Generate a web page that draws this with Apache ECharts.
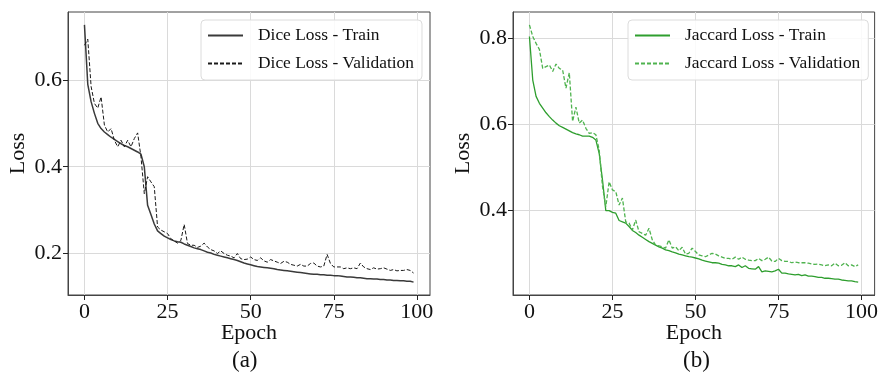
<!DOCTYPE html>
<html>
<head>
<meta charset="utf-8">
<script src="https://cdn.jsdelivr.net/npm/echarts@6/dist/echarts.min.js"></script>
<style>
  html, body { margin: 0; padding: 0; background: #fff; }
  #chart { width: 881px; height: 375px; }
</style>
</head>
<body>
<div id="chart"></div>
<script>
// epoch ticks and loss ticks
const epochTicks = [0, 25, 50, 75, 100]
const diceTicks = [0.2, 0.4, 0.6]
const jaccardTicks = [0.4, 0.6, 0.8]

// values, one per epoch (0..99)
const diceTrain = [
  0.727, 0.59, 0.55, 0.523, 0.50, 0.488, 0.48, 0.474, 0.468, 0.463,
  0.458, 0.453, 0.449, 0.446, 0.442, 0.438, 0.434, 0.429, 0.40, 0.311,
  0.29, 0.268, 0.252, 0.246, 0.24, 0.236, 0.232, 0.229, 0.227, 0.226,
  0.222, 0.219, 0.216, 0.213, 0.211, 0.209, 0.206, 0.203, 0.201, 0.198,
  0.196, 0.194, 0.192, 0.19, 0.188, 0.186, 0.184, 0.181, 0.178, 0.176,
  0.174, 0.172, 0.17, 0.169, 0.168, 0.167, 0.166, 0.165, 0.163, 0.162,
  0.161, 0.16, 0.159, 0.158, 0.157, 0.156, 0.155, 0.154, 0.153, 0.152,
  0.152, 0.151, 0.151, 0.15, 0.15, 0.149, 0.149, 0.148, 0.147, 0.146,
  0.146, 0.145, 0.144, 0.144, 0.143, 0.142, 0.142, 0.141, 0.141, 0.14,
  0.14, 0.139, 0.139, 0.138, 0.138, 0.137, 0.137, 0.136, 0.136, 0.134
]
const diceVal = [
  0.68, 0.694, 0.585, 0.546, 0.535, 0.561, 0.496, 0.48, 0.488, 0.461,
  0.446, 0.461, 0.446, 0.461, 0.446, 0.465, 0.478, 0.423, 0.338, 0.377,
  0.365, 0.354, 0.261, 0.254, 0.25, 0.246, 0.234, 0.229, 0.224, 0.23,
  0.267, 0.223, 0.219, 0.219, 0.214, 0.217, 0.224, 0.215, 0.209, 0.206,
  0.2, 0.206, 0.2, 0.196, 0.194, 0.19, 0.2, 0.188, 0.186, 0.187,
  0.192, 0.186, 0.184, 0.19, 0.183, 0.18, 0.186, 0.183, 0.18, 0.177,
  0.182, 0.18, 0.175, 0.173, 0.171, 0.175, 0.171, 0.171, 0.177, 0.178,
  0.171, 0.169, 0.171, 0.198, 0.177, 0.169, 0.169, 0.169, 0.165, 0.167,
  0.165, 0.167, 0.165, 0.178, 0.169, 0.165, 0.163, 0.167, 0.164, 0.165,
  0.167, 0.164, 0.161, 0.163, 0.16, 0.161, 0.161, 0.163, 0.161, 0.155
]
const jaccardTrain = [
  0.804, 0.703, 0.665, 0.649, 0.638, 0.627, 0.618, 0.61, 0.603, 0.597,
  0.593, 0.589, 0.585, 0.581, 0.578, 0.576, 0.573, 0.573, 0.573, 0.57,
  0.564, 0.533, 0.471, 0.40, 0.40, 0.396, 0.394, 0.377, 0.374, 0.371,
  0.363, 0.354, 0.349, 0.343, 0.338, 0.333, 0.328, 0.324, 0.32, 0.316,
  0.313, 0.309, 0.307, 0.304, 0.302, 0.299, 0.297, 0.295, 0.293, 0.292,
  0.29, 0.288, 0.285, 0.283, 0.281, 0.279, 0.279, 0.278, 0.275, 0.274,
  0.272, 0.272, 0.27, 0.274, 0.268, 0.272, 0.266, 0.265, 0.264, 0.27,
  0.258, 0.26, 0.259, 0.258, 0.26, 0.264, 0.255, 0.255, 0.253, 0.252,
  0.251, 0.252, 0.249, 0.251, 0.248, 0.248, 0.247, 0.245, 0.245, 0.243,
  0.243, 0.242, 0.241, 0.241, 0.239, 0.238, 0.237, 0.237, 0.235, 0.234
]
const jaccardVal = [
  0.831, 0.804, 0.788, 0.774, 0.73, 0.734, 0.738, 0.723, 0.74, 0.73,
  0.726, 0.684, 0.72, 0.607, 0.64, 0.603, 0.61, 0.591, 0.579, 0.581,
  0.576, 0.541, 0.456, 0.409, 0.467, 0.448, 0.444, 0.413, 0.429, 0.374,
  0.371, 0.355, 0.378, 0.351, 0.347, 0.343, 0.359, 0.332, 0.32, 0.318,
  0.316, 0.313, 0.332, 0.313, 0.316, 0.307, 0.315, 0.299, 0.301, 0.313,
  0.305, 0.297, 0.295, 0.293, 0.297, 0.301, 0.299, 0.295, 0.292, 0.289,
  0.289, 0.287, 0.292, 0.287, 0.292, 0.287, 0.285, 0.284, 0.284, 0.289,
  0.284, 0.287, 0.292, 0.283, 0.282, 0.289, 0.284, 0.282, 0.282, 0.279,
  0.281, 0.279, 0.279, 0.279, 0.278, 0.276, 0.275, 0.276, 0.274, 0.272,
  0.274, 0.272, 0.278, 0.272, 0.273, 0.279, 0.272, 0.274, 0.27, 0.274
]

const serif = 'Liberation Serif'
const frameColor = '#444'
const gridColor = '#dadada'

const pairs = arr => arr.map((v, i) => [i, v])

// padded like matplotlib's default 5% margins
function padRange(a, b) {
  const all = a.concat(b)
  const lo = Math.min(...all), hi = Math.max(...all)
  const pad = (hi - lo) * 0.05
  return [lo - pad, hi + pad]
}
const diceRange = padRange(diceTrain, diceVal)
const jaccardRange = padRange(jaccardTrain, jaccardVal)

function xAxisFor(gridIndex) {
  return {
    type: 'value', gridIndex,
    min: -4.95, max: 103.95,
    name: 'Epoch', nameLocation: 'middle', nameGap: 27, nameMoveOverlap: false,
    nameTextStyle: { fontFamily: serif, fontSize: 22, color: '#111' },
    axisLine: { show: true, onZero: false, lineStyle: { color: frameColor } },
    axisTick: { show: true, length: 5, customValues: epochTicks, lineStyle: { color: '#222' } },
    axisLabel: { customValues: epochTicks, margin: 6, fontFamily: serif, fontSize: 22, color: '#111' },
    splitLine: { show: true, lineStyle: { color: gridColor, width: 1 } }
  }
}
function yAxisFor(gridIndex, range, ticks) {
  return {
    type: 'value', gridIndex,
    min: range[0], max: range[1],
    name: 'Loss', nameLocation: 'middle', nameGap: 39,
    nameTextStyle: { fontFamily: serif, fontSize: 22, color: '#111' },
    axisLine: { show: true, onZero: false, lineStyle: { color: frameColor } },
    axisTick: { show: true, length: 5, customValues: ticks, lineStyle: { color: '#222' } },
    axisLabel: { customValues: ticks, margin: 6, fontFamily: serif, fontSize: 22, color: '#111',
      formatter: v => v.toFixed(1) },
    splitLine: { show: true, lineStyle: { color: gridColor, width: 1 } }
  }
}
function legendAt(left, names) {
  return {
    data: names, left, top: 20, orient: 'vertical',
    itemWidth: 35, itemHeight: 14, itemGap: 11,
    padding: [7, 8, 8, 6],
    backgroundColor: 'rgba(255,255,255,0.85)',
    borderColor: '#dcdcdc', borderWidth: 1, borderRadius: 4,
    itemStyle: { opacity: 0 },
    textStyle: { fontFamily: serif, fontSize: 17.4, color: '#111', padding: [0, 0, 0, 10] }
  }
}
function lineSeries(name, data, idx, color, width, dashed) {
  return {
    name, type: 'line', xAxisIndex: idx, yAxisIndex: idx,
    data: pairs(data), symbol: 'none', animation: false,
    lineStyle: { color, width, type: dashed ? [4, 2] : 'solid' },
    itemStyle: { color }
  }
}

const chart = echarts.init(document.getElementById('chart'))
chart.setOption({
  backgroundColor: '#fff',
  grid: [
    { left: 68, top: 12, width: 362, height: 283, show: true, borderColor: frameColor, borderWidth: 1 },
    { left: 513, top: 12, width: 364, height: 283, show: true, borderColor: frameColor, borderWidth: 1 }
  ],
  xAxis: [xAxisFor(0), xAxisFor(1)],
  yAxis: [yAxisFor(0, diceRange, diceTicks), yAxisFor(1, jaccardRange, jaccardTicks)],
  legend: [
    legendAt(201, ['Dice Loss - Train', 'Dice Loss - Validation']),
    legendAt(628, ['Jaccard Loss - Train', 'Jaccard Loss - Validation'])
  ],
  series: [
    lineSeries('Dice Loss - Train', diceTrain, 0, '#3a3a3a', 1.5, false),
    lineSeries('Dice Loss - Validation', diceVal, 0, '#1a1a1a', 1, true),
    lineSeries('Jaccard Loss - Train', jaccardTrain, 1, '#2e9e2e', 1.3, false),
    lineSeries('Jaccard Loss - Validation', jaccardVal, 1, '#4fb34f', 1.3, true)
  ],
  graphic: [
    { type: 'text', left: 232, top: 349, style: { text: '(a)', font: '23px "Liberation Serif"', fill: '#111' } },
    { type: 'text', left: 683, top: 349, style: { text: '(b)', font: '23px "Liberation Serif"', fill: '#111' } }
  ]
})
</script>
</body>
</html>
